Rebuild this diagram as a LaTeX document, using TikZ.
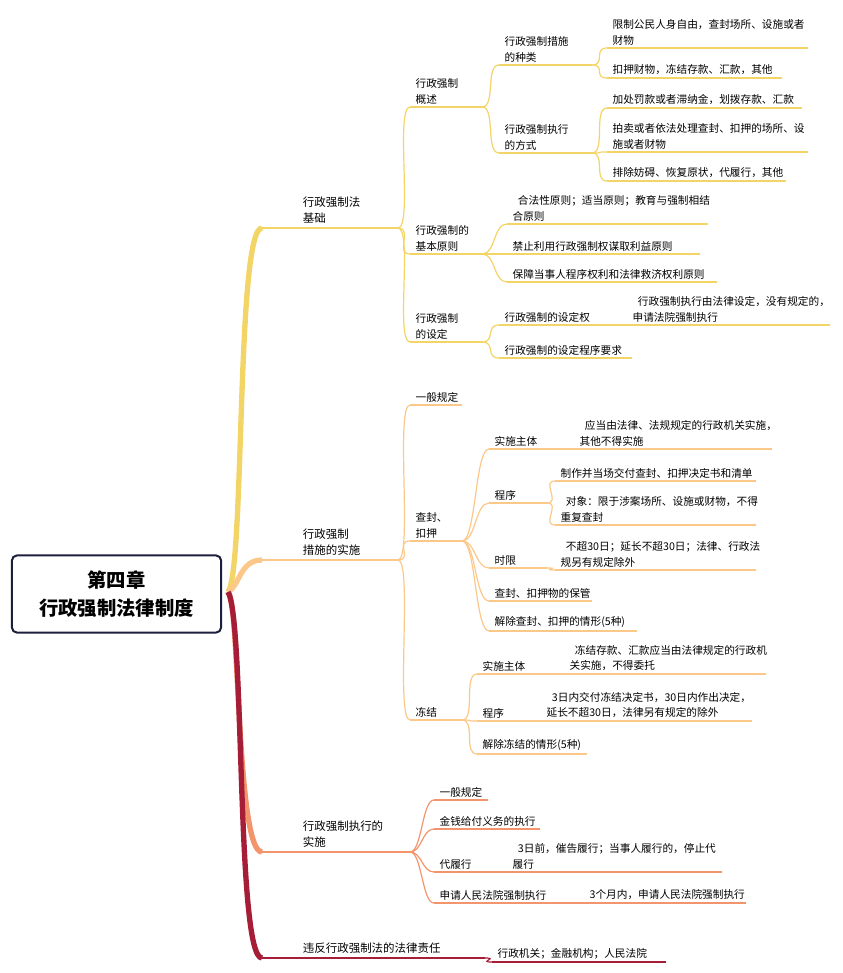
\documentclass[tikz,border=0pt]{standalone}
\usepackage{fontspec}
\setmainfont{Noto Sans CJK SC}
\begin{document}
\begin{tikzpicture}[x=0.75pt,y=-0.75pt,
  txt/.style={font=\fontsize{8}{11.5}\selectfont, align=left, inner xsep=4pt, inner ysep=2pt, text=black},
  ttl/.style={font=\fontsize{8.6}{12.5}\selectfont, align=left, inner xsep=2pt, inner ysep=3pt, text=black},
  cA/.style={draw=yA, line width=0.9pt}, cB/.style={draw=yB, line width=0.9pt},
  cC/.style={draw=yC, line width=0.9pt}, cD/.style={draw=yD, line width=0.9pt}]
\definecolor{yA}{HTML}{F3D467}
\definecolor{yB}{HTML}{FBC88A}
\definecolor{yC}{HTML}{F2956C}
\definecolor{yD}{HTML}{A51D37}
\definecolor{navy}{HTML}{1B1E3D}
\useasboundingbox (0,0) rectangle (842,973);
\newcommand\mmitem[6]{%
  \coordinate (#1s) at (#2,#3); \coordinate (#1e) at (#4,#3);
  \node[txt, anchor=south west] (#1) at (#2,#3) {#6};
  \draw[#5] (#1s) -- (#1e);}
\newcommand\mmlink[3]{\draw[#3] (#1e) .. controls +(14,0) and +(-14,0) .. (#2s);}
% root
\node[draw=navy, line width=1.5pt, rounded corners=4pt, minimum width=157pt, minimum height=58pt,
  font=\bfseries\fontsize{14.5}{21}\selectfont, align=center] (root) at (116.5,594) {第四章\\行政强制法律制度};
\coordinate (roote) at (228,592);
% level 1
\newcommand\mmtop[5]{%
  \coordinate (#1s) at (262,#2); \coordinate (#1e) at (#3,#2);
  \node[ttl, anchor=south west] (#1) at (300,#2) {#5};
  \draw[#4, line width=2.2pt] (#1s) -- (#1e);}
\mmtop{A}{228}{398}{yA}{行政强制法\\基础}
\mmtop{B}{560}{398}{yB}{行政强制\\措施的实施}
\mmtop{C}{852}{410}{yC}{行政强制执行的\\实施}
\mmtop{D}{958}{485}{yD}{违反行政强制法的法律责任}
\draw[yA, line width=4pt] (roote) .. controls (245,570) and (236,228) .. (As);
\draw[yB, line width=4pt] (roote) .. controls (240,585) and (240,560) .. (Bs);
\draw[yC, line width=4pt] (roote) .. controls (240,600) and (236,852) .. (Cs);
\draw[yD, line width=4pt] (roote) .. controls (245,620) and (236,958) .. (Ds);
% branch A
\mmitem{A1}{410}{107}{482}{cA}{行政强制\\概述}
\mmitem{A2}{410}{254}{482}{cA}{行政强制的\\基本原则}
\mmitem{A3}{410}{342}{482}{cA}{行政强制\\的设定}
\foreach \t in {A1,A2,A3}{\draw[cA] (Ae) .. controls +(15,0) and +(-15,0) .. (\t s);}
\mmitem{A11}{499}{65}{592}{cA}{行政强制措施\\的种类}
\mmitem{A12}{499}{153}{592}{cA}{行政强制执行\\的方式}
\mmlink{A1}{A11}{cA}\mmlink{A1}{A12}{cA}
\mmitem{A111}{607}{48}{808}{cA}{限制公民人身自由，查封场所、设施或者\\财物}
\mmitem{A112}{607}{78}{782}{cA}{扣押财物，冻结存款、汇款，其他}
\mmlink{A11}{A111}{cA}\mmlink{A11}{A112}{cA}
\mmitem{A121}{607}{108}{802}{cA}{加处罚款或者滞纳金，划拨存款、汇款}
\mmitem{A122}{607}{152}{808}{cA}{拍卖或者依法处理查封、扣押的场所、设\\施或者财物}
\mmitem{A123}{607}{181}{786}{cA}{排除妨碍、恢复原状，代履行，其他}
\mmlink{A12}{A121}{cA}\mmlink{A12}{A122}{cA}\mmlink{A12}{A123}{cA}
\mmitem{A21}{507}{224}{708}{cA}{\hspace*{4pt}合法性原则；适当原则；教育与强制相结\\合原则}
\mmitem{A22}{507}{254}{700}{cA}{禁止利用行政强制权谋取利益原则}
\mmitem{A23}{507}{282}{717}{cA}{保障当事人程序权利和法律救济权利原则}
\mmlink{A2}{A21}{cA}\mmlink{A2}{A22}{cA}\mmlink{A2}{A23}{cA}
\mmitem{A31}{499}{325}{600}{cA}{行政强制的设定权}
\mmitem{A32}{499}{358}{632}{cA}{行政强制的设定程序要求}
\mmlink{A3}{A31}{cA}\mmlink{A3}{A32}{cA}
\mmitem{A311}{627}{325}{830}{cA}{\hspace*{4pt}行政强制执行由法律设定，没有规定的，\\申请法院强制执行}
\mmlink{A31}{A311}{cA}
% branch B
\mmitem{B1}{410}{405}{462}{cB}{一般规定}
\mmitem{B2}{410}{541}{462}{cB}{查封、\\扣押}
\mmitem{B3}{410}{720}{462}{cB}{冻结}
\foreach \t in {B1,B2,B3}{\draw[cB] (Be) .. controls +(15,0) and +(-15,0) .. (\t s);}
\mmitem{B21}{489}{449}{572}{cB}{实施主体}
\mmitem{B22}{489}{503}{547}{cB}{程序}
\mmitem{B23}{489}{568}{547}{cB}{时限}
\mmitem{B24}{489}{601}{592}{cB}{查封、扣押物的保管}
\mmitem{B25}{489}{631}{637}{cB}{解除查封、扣押的情形(5种)}
\foreach \t in {B21,B22,B23,B24,B25}{\mmlink{B2}{\t}{cB}}
\mmitem{B211}{574}{449}{772}{cB}{\hspace*{4pt}应当由法律、法规规定的行政机关实施，\\其他不得实施}
\mmlink{B21}{B211}{cB}
\mmitem{B221}{555}{481}{756}{cB}{制作并当场交付查封、扣押决定书和清单}
\mmitem{B222}{555}{525}{756}{cB}{\hspace*{4pt}对象：限于涉案场所、设施或财物，不得\\重复查封}
\mmlink{B22}{B221}{cB}\mmlink{B22}{B222}{cB}
\mmitem{B231}{555}{570}{756}{cB}{\hspace*{4pt}不超30日；延长不超30日；法律、行政法\\规另有规定除外}
\mmlink{B23}{B231}{cB}
\mmitem{B31}{477}{674}{562}{cB}{实施主体}
\mmitem{B32}{477}{721}{537}{cB}{程序}
\mmitem{B33}{477}{754}{587}{cB}{解除冻结的情形(5种)}
\foreach \t in {B31,B32,B33}{\mmlink{B3}{\t}{cB}}
\mmitem{B311}{564}{674}{766}{cB}{\hspace*{4pt}冻结存款、汇款应当由法律规定的行政机\\关实施，不得委托}
\mmlink{B31}{B311}{cB}
\mmitem{B321}{541}{721}{752}{cB}{\hspace*{4pt}3日内交付冻结决定书，30日内作出决定，\\延长不超30日，法律另有规定的除外}
\mmlink{B32}{B321}{cB}
% branch C
\mmitem{C1}{434}{800}{488}{cC}{一般规定}
\mmitem{C2}{434}{829}{540}{cC}{金钱给付义务的执行}
\mmitem{C3}{434}{872}{505}{cC}{代履行}
\mmitem{C4}{434}{903}{577}{cC}{申请人民法院强制执行}
\foreach \t in {C1,C2,C3,C4}{\draw[cC] (Ce) .. controls +(12,0) and +(-12,0) .. (\t s);}
\mmitem{C31}{507}{872}{722}{cC}{\hspace*{4pt}3日前，催告履行；当事人履行的，停止代\\履行}
\mmlink{C3}{C31}{cC}
\mmitem{C41}{584}{903}{746}{cC}{3个月内，申请人民法院强制执行}
\mmlink{C4}{C41}{cC}
% branch D
\mmitem{D1}{492}{962}{666}{cD}{行政机关；金融机构；人民法院}
\mmlink{D}{D1}{cD}
\end{tikzpicture}
\end{document}
